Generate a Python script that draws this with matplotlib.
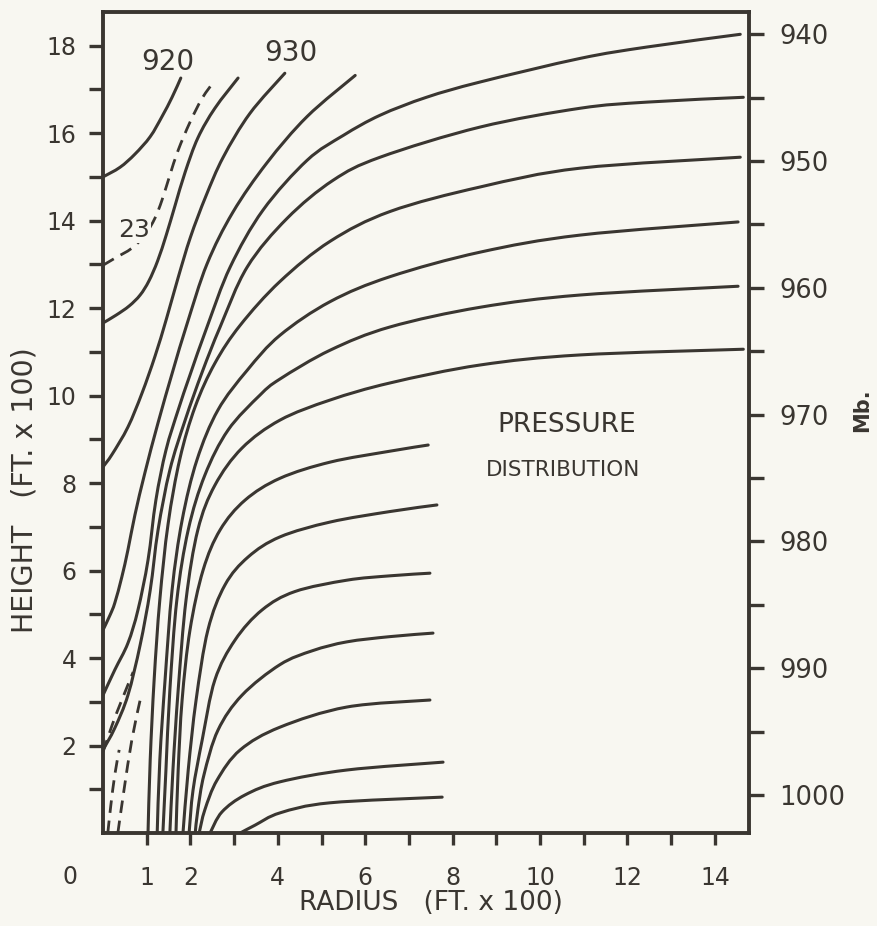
import matplotlib
matplotlib.use("Agg")
import matplotlib.pyplot as plt
from matplotlib.path import Path
from matplotlib.patches import PathPatch

INK = "#3a3631"
PAPER = "#f8f7f1"

# ---- isobars (radius in ft x100, height in ft x100) ----
r920 = [0, 0.39, 0.73, 1.08, 1.35, 1.58, 1.78]
h920 = [15.00, 15.22, 15.52, 15.92, 16.38, 16.82, 17.26]

r925 = [0, 0.30, 0.60, 0.85, 1.05, 1.25, 1.45, 1.65, 1.88, 2.17, 2.56, 3.09]
h925 = [11.66, 11.84, 12.05, 12.30, 12.62, 13.08, 13.68, 14.35, 15.11, 15.89, 16.57, 17.26]

r930 = [0, 0.21, 0.57, 0.89, 1.19, 1.45, 1.72, 2.00, 2.35, 2.75, 3.36, 4.16]
h930 = [8.37, 8.66, 9.28, 10.05, 10.90, 11.75, 12.70, 13.62, 14.55, 15.45, 16.45, 17.37]

r935 = [0, 0.16, 0.27, 0.43, 0.57, 0.73, 0.96, 1.26, 1.60, 1.92, 2.38, 2.97, 3.75, 4.67, 5.77]
h935 = [4.64, 4.98, 5.26, 5.85, 6.47, 7.27, 8.24, 9.38, 10.57, 11.63, 13.01, 14.19, 15.32, 16.38, 17.32]

r940 = [0, 0.27, 0.57, 0.80, 1.03, 1.21, 1.44, 1.72, 1.99, 2.38, 2.91, 3.66, 4.67, 5.50, 6.34,
        7.40, 8.63, 10.92, 12.45, 14.58]
h940 = [3.15, 3.73, 4.34, 5.10, 6.24, 7.61, 8.75, 9.67, 10.47, 11.57, 12.94, 14.24, 15.38, 15.95,
        16.41, 16.82, 17.17, 17.71, 17.97, 18.26]

r945 = [0, 0.27, 0.57, 0.85, 1.08, 1.26, 1.53, 1.88, 2.27, 2.68, 3.30, 4.21, 5.26, 6.34, 8.63,
        10.92, 12.45, 14.65]
h945 = [1.90, 2.40, 3.15, 4.30, 5.55, 6.93, 8.30, 9.44, 10.54, 11.57, 12.94, 14.05, 14.92, 15.45,
        16.14, 16.57, 16.71, 16.82]

r950 = [14.58, 10.92, 8.63, 6.57, 5.20, 4.05, 3.14, 2.56, 2.11, 1.76, 1.49, 1.30, 1.17, 1.08, 1.03]
h950 = [15.45, 15.20, 14.77, 14.21, 13.53, 12.61, 11.61, 10.74, 9.75, 8.56, 7.07, 5.33, 3.50, 1.67, 0]

r955 = [14.53, 10.92, 8.63, 6.57, 5.20, 4.05, 3.30, 2.63, 2.15, 1.81, 1.58, 1.42, 1.30, 1.24]
h955 = [13.97, 13.67, 13.28, 12.72, 12.15, 11.38, 10.58, 9.67, 8.53, 7.15, 5.55, 3.50, 1.67, 0]

r960 = [14.53, 10.92, 8.63, 6.57, 5.20, 4.05, 3.59, 2.86, 2.33, 1.95, 1.69, 1.53, 1.44, 1.37]
h960 = [12.50, 12.30, 12.02, 11.57, 11.04, 10.38, 10.01, 9.21, 8.18, 6.93, 5.33, 3.27, 1.44, 0]

r965 = [14.65, 10.92, 8.63, 6.57, 5.20, 4.05, 3.18, 2.56, 2.17, 1.90, 1.72, 1.60, 1.53]
h965 = [11.06, 10.93, 10.70, 10.29, 9.90, 9.44, 8.80, 7.95, 6.93, 5.33, 3.27, 1.44, 0]

r970 = [7.44, 6.57, 5.20, 4.05, 3.25, 2.68, 2.29, 1.99, 1.81, 1.72, 1.67]
h970 = [8.87, 8.73, 8.48, 8.11, 7.61, 6.93, 6.01, 4.64, 3.04, 1.44, 0]

r975 = [7.64, 6.57, 5.20, 4.05, 3.32, 2.79, 2.40, 2.13, 1.95, 1.83]
h975 = [7.50, 7.35, 7.11, 6.77, 6.31, 5.67, 4.64, 3.04, 1.44, 0]

r980 = [7.48, 6.57, 5.58, 4.39, 3.64, 3.02, 2.56, 2.27, 2.06, 1.97]
h980 = [5.94, 5.88, 5.78, 5.52, 5.10, 4.41, 3.50, 2.13, 0.98, 0]

r985 = [7.55, 6.57, 5.58, 4.80, 4.05, 3.18, 2.63, 2.31, 2.17, 2.11]
h985 = [4.57, 4.49, 4.37, 4.17, 3.85, 3.15, 2.35, 1.33, 0.53, 0]

r990 = [7.48, 5.58, 4.05, 3.14, 2.61, 2.33, 2.20]
h990 = [3.04, 2.88, 2.42, 1.90, 1.21, 0.53, 0]

r995 = [7.78, 5.58, 4.05, 3.25, 2.72, 2.45]
h995 = [1.62, 1.44, 1.17, 0.87, 0.48, 0]

r1000 = [7.76, 5.19, 4.05, 3.48, 3.14]
h1000 = [0.82, 0.69, 0.46, 0.18, 0]

# ---- dashed lines ----
r23 = [0, 0.27, 0.66, 0.96, 1.19, 1.35, 1.53, 1.72, 1.99, 2.27, 2.56]
h23 = [12.98, 13.14, 13.37, 13.67, 14.06, 14.47, 15.04, 15.61, 16.25, 16.80, 17.21]

rd1 = [0, 0.21, 0.43, 0.69]
hd1 = [1.85, 2.47, 3.04, 3.68]
rd2 = [0.34, 0.48, 0.66, 0.85]
hd2 = [0, 0.98, 2.13, 3.04]
rd3 = [0.11, 0.18, 0.27, 0.37]
hd3 = [0, 0.64, 1.33, 1.90]

# ---- axes ticks ----
x_major = [1, 2, 4, 6, 8, 10, 12, 14]
x_minor = [3, 5, 7, 9, 11, 13]
y_major = [2, 4, 6, 8, 10, 12, 14, 16, 18]
y_minor = [1, 3, 5, 7, 9, 11, 13, 15, 17]
p_major = [940, 950, 960, 970, 980, 990, 1000]
p_minor = [945, 955, 965, 975, 985, 995]
# calibration of the pressure scale: (mb, height)
p_cal = [940, 1000]
h_cal = [18.26, 0.87]

XMAX, YMAX = 14.78, 18.77


def smooth_path(r, h):
    """Bezier path through the read points (Catmull-Rom control points)."""
    pts = list(zip(r, h))
    n = len(pts)
    verts = [pts[0]]
    codes = [Path.MOVETO]
    for i in range(n - 1):
        p0 = pts[i - 1] if i > 0 else pts[i]
        p1 = pts[i]
        p2 = pts[i + 1]
        p3 = pts[i + 2] if i + 2 < n else pts[i + 1]
        c1 = (p1[0] + (p2[0] - p0[0]) / 6.0, p1[1] + (p2[1] - p0[1]) / 6.0)
        c2 = (p2[0] - (p3[0] - p1[0]) / 6.0, p2[1] - (p3[1] - p1[1]) / 6.0)
        verts += [c1, c2, p2]
        codes += [Path.CURVE4] * 3
    return Path(verts, codes)


fig = plt.figure(figsize=(8.78, 9.26), dpi=100, facecolor=PAPER)
ax = fig.add_axes([103 / 878, 93 / 926, 646 / 878, 821 / 926])
ax.set_facecolor(PAPER)
ax.set_xlim(0, XMAX)
ax.set_ylim(0, YMAX)

solid = [(r920, h920), (r925, h925), (r930, h930), (r935, h935), (r940, h940),
         (r945, h945), (r950, h950), (r955, h955), (r960, h960), (r965, h965),
         (r970, h970), (r975, h975), (r980, h980), (r985, h985), (r990, h990),
         (r995, h995), (r1000, h1000)]
for r, h in solid:
    ax.add_patch(PathPatch(smooth_path(r, h), fill=False, edgecolor=INK, lw=2.2,
                           capstyle="round", joinstyle="round"))

for r, h in [(r23, h23), (rd1, hd1), (rd2, hd2), (rd3, hd3)]:
    ax.add_patch(PathPatch(smooth_path(r, h), fill=False, edgecolor=INK, lw=2.0,
                           linestyle=(0, (4.5, 2.8))))

# contour labels
ax.text(1.49, 17.62, "920", color=INK, fontsize=20, ha="center", va="center")
ax.text(4.30, 17.83, "930", color=INK, fontsize=20, ha="center", va="center")
ax.text(0.71, 13.78, "23", color=INK, fontsize=18, ha="center", va="center",
        bbox=dict(facecolor=PAPER, edgecolor="none", pad=0.5))
ax.text(10.60, 9.33, "PRESSURE", color=INK, fontsize=19, ha="center", va="center")
ax.text(10.53, 8.29, "DISTRIBUTION", color=INK, fontsize=15.5, ha="center", va="center")

for s in ax.spines.values():
    s.set_linewidth(2.8)
    s.set_color(INK)

ax.set_xticks(x_major, [str(v) for v in x_major])
ax.set_xticks(x_minor, minor=True)
ax.set_yticks(y_major, [str(v) for v in y_major])
ax.set_yticks(y_minor, minor=True)
ax.tick_params(axis="x", which="both", direction="out", length=8.5, width=2.4,
               color=INK, labelcolor=INK, labelsize=17, pad=15)
ax.tick_params(axis="y", which="both", direction="out", length=10, width=2.4,
               color=INK, labelcolor=INK, labelsize=17, pad=9)
ax.text(-0.75, -0.053, "0", transform=ax.get_xaxis_transform(), color=INK,
        fontsize=17, ha="center", va="center")

# pressure scale on the right
slope = (h_cal[0] - h_cal[1]) / (p_cal[1] - p_cal[0])
p_bottom = p_cal[0] + (h_cal[0] - 0) / slope
p_top = p_cal[0] + (h_cal[0] - YMAX) / slope
ax2 = ax.twinx()
ax2.set_ylim(p_bottom, p_top)
for s in ax2.spines.values():
    s.set_visible(False)
ax2.set_yticks(p_major, [str(v) for v in p_major])
ax2.set_yticks(p_minor, minor=True)
ax2.tick_params(axis="y", which="both", direction="out", length=11, width=2.4,
                color=INK, labelcolor=INK, labelsize=18.5, pad=11)
ax2.text(1.175, 0.515, "Mb.", transform=ax2.transAxes, rotation=90, color=INK,
         fontsize=15, fontweight="bold", ha="center", va="center")

fig.text(431 / 878, (926 - 903) / 926, "RADIUS   (FT. x 100)", color=INK,
         fontsize=19, ha="center", va="center")
fig.text(25 / 878, (926 - 490) / 926, "HEIGHT   (FT. x 100)", color=INK,
         fontsize=20.5, rotation=90, ha="center", va="center")

fig.savefig("out.png", dpi=100, facecolor=PAPER)
